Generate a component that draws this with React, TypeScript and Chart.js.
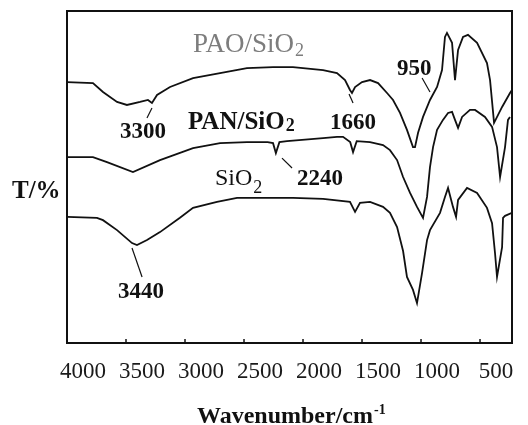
import React, { useEffect, useRef } from 'react';
import { Chart, registerables } from 'chart.js';
Chart.register(...registerables);

// Wavenumber (cm-1) and transmittance (arbitrary, %)
const paoWn = [4000,3780,3695,3576,3492,3381,3314,3280,3237,3127,2932,2703,2475,2254,2085,1830,1712,1644,1602,1585,1559,1500,1432,1364,1288,1237,1178,1119,1068,1051,1025,983,924,864,822,797,780,737,712,686,644,602,525,441,415,381,313,246,229];
const paoT = [78.6,78.3,75.6,72.6,71.7,72.6,73.2,72.3,74.7,77.1,79.8,81.3,82.8,83.1,83.1,82.2,81.3,79.2,76.2,75.3,77.1,78.6,79.2,78.3,75.3,73.2,69.3,64.2,59.0,59.0,63.3,68.1,73.2,77.1,82.2,92.2,93.4,90.4,79.2,88.3,92.2,92.8,90.4,84.3,79.2,66.3,71.1,75.3,76.2];

const panWn = [4000,3780,3661,3441,3212,2932,2703,2475,2300,2254,2230,2200,2136,1830,1712,1661,1600,1576,1545,1432,1322,1263,1203,1152,1093,1034,983,949,924,898,864,814,771,737,712,686,652,585,542,458,398,356,330,288,263,246];
const panT = [56.0,56.0,54.5,51.5,55.1,58.7,60.2,60.5,60.5,60.2,57.2,60.5,60.8,61.7,62.1,62.1,60.5,57.5,60.8,60.5,59.6,58.1,55.1,50.0,45.2,41.0,37.7,44.0,53.0,59.0,64.2,67.2,69.3,69.6,67.2,64.8,68.1,70.2,70.2,68.1,65.1,59.0,50.0,59.0,67.2,68.1];

const sioWn = [4000,3746,3695,3576,3449,3407,3322,3212,3043,2932,2729,2559,2085,1830,1602,1559,1517,1432,1322,1263,1203,1152,1119,1068,1034,991,949,924,839,797,771,729,703,686,610,525,441,398,373,356,313,305,288,229];
const sioT = [38.0,37.7,37.0,34.0,30.1,29.5,31.0,33.4,37.7,40.7,42.5,43.7,43.7,43.4,42.5,39.5,42.2,42.5,41.0,39.2,34.9,27.7,19.9,16.0,12.0,21.1,31.0,34.0,39.2,44.0,46.7,41.0,38.0,43.1,46.7,45.2,40.7,36.1,27.1,19.9,28.9,37.7,38.3,39.2];

const xTicks = [4000, 3500, 3000, 2500, 2000, 1500, 1000, 500];
const xTitle = 'Wavenumber/cm';
const xTitleSup = '-1';
const yTitle = 'T/%';

// peak annotations: text, anchor (wavenumber, T), leader line ends
const peakNotes = [
  { text: '3300', wn: 3551, t: 61.7, a: [3280, 70.8], b: [3322, 67.8] },
  { text: '1660', wn: 1771, t: 64.5, a: [1610, 75.0], b: [1576, 72.3] },
  { text: '950', wn: 1203, t: 80.7, a: [991, 79.8], b: [924, 75.6] },
  { text: '2240', wn: 2051, t: 47.6, a: [2178, 55.7], b: [2093, 52.7] },
  { text: '3440', wn: 3568, t: 13.6, a: [3449, 28.6], b: [3364, 19.9] },
];
const seriesNotes = [
  { main: 'PAO/SiO', sub: '2', wn: 2932, t: 87.7, font: '27px "Liberation Serif"', subFont: '18px "Liberation Serif"', subDy: 4, color: '#7d7d7d' },
  { main: 'PAN/SiO', sub: '2', wn: 2975, t: 64.5, font: 'bold 25px "Liberation Serif"', subFont: 'bold 18px "Liberation Serif"', subDy: 2, color: '#111' },
  { main: 'SiO', sub: '2', wn: 2746, t: 47.6, font: '24px "Liberation Serif"', subFont: '18px "Liberation Serif"', subDy: 8, color: '#111' },
];

const overlay = {
  id: 'overlay',
  afterDatasetsDraw(chart: any) {
    const { ctx, chartArea, scales } = chart;
    const { left, right, top, bottom } = chartArea;
    const x = scales.x, y = scales.y;
    ctx.save();
    ctx.strokeStyle = '#111';
    ctx.lineWidth = 2;
    ctx.strokeRect(left, top, right - left, bottom - top);
    ctx.lineWidth = 1.5;
    xTicks.forEach((v) => {
      const px = x.getPixelForValue(v);
      ctx.beginPath();
      ctx.moveTo(px, bottom);
      ctx.lineTo(px, bottom - 4);
      ctx.stroke();
    });
    ctx.textBaseline = 'alphabetic';
    ctx.textAlign = 'left';
    seriesNotes.forEach((n) => {
      const px = x.getPixelForValue(n.wn);
      const py = y.getPixelForValue(n.t);
      ctx.fillStyle = n.color;
      ctx.font = n.font;
      ctx.fillText(n.main, px, py);
      const w = ctx.measureText(n.main).width;
      ctx.font = n.subFont;
      ctx.fillText(n.sub, px + w + 1, py + n.subDy);
    });
    ctx.fillStyle = '#111';
    ctx.font = 'bold 23px "Liberation Serif"';
    ctx.lineWidth = 1.2;
    peakNotes.forEach((n) => {
      ctx.fillText(n.text, x.getPixelForValue(n.wn), y.getPixelForValue(n.t));
      ctx.beginPath();
      ctx.moveTo(x.getPixelForValue(n.a[0]), y.getPixelForValue(n.a[1]));
      ctx.lineTo(x.getPixelForValue(n.b[0]), y.getPixelForValue(n.b[1]));
      ctx.stroke();
    });
    // y title
    ctx.font = 'bold 25px "Liberation Serif"';
    ctx.fillText(yTitle, 12, 198);
    // x title
    ctx.font = 'bold 24px "Liberation Serif"';
    ctx.fillText(xTitle, 197, 423);
    const tw = ctx.measureText(xTitle).width;
    ctx.font = 'bold 14px "Liberation Serif"';
    ctx.fillText(xTitleSup, 197 + tw + 1, 414);
    ctx.restore();
  },
};

export default function App() {
  const ref = useRef<HTMLCanvasElement>(null);
  useEffect(() => {
    if (!ref.current) return;
    const mk = (wn: number[], t: number[]) => wn.map((w, i) => ({ x: w, y: t[i] }));
    const ds = (label: string, wn: number[], t: number[]) => ({
      label,
      data: mk(wn, t),
      borderColor: '#111',
      borderWidth: 1.8,
      pointRadius: 0,
      tension: 0,
      fill: false,
    });
    const chart = new Chart(ref.current, {
      type: 'line',
      data: {
        datasets: [
          ds('PAO/SiO2', paoWn, paoT),
          ds('PAN/SiO2', panWn, panT),
          ds('SiO2', sioWn, sioT),
        ],
      },
      options: {
        animation: false,
        responsive: false,
        layout: { padding: { left: 67, right: 16, top: 11, bottom: 0 } },
        plugins: { legend: { display: false }, tooltip: { enabled: false } },
        scales: {
          x: {
            type: 'linear',
            reverse: true,
            min: 229,
            max: 4000,
            afterBuildTicks: (s: any) => { s.ticks = xTicks.map((v) => ({ value: v })); },
            afterFit: (s: any) => { s.height = 82; },
            grid: { display: false, drawTicks: false },
            border: { display: false },
            ticks: {
              autoSkip: false,
              maxRotation: 0,
              padding: 15,
              labelOffset: 16,
              color: '#1a1a1a',
              font: { family: '"Liberation Serif"', size: 23 },
              callback: (v: any) => String(v),
            },
          },
          y: { display: false, min: 0, max: 100 },
        },
      },
      plugins: [overlay],
    });
    return () => chart.destroy();
  }, []);
  return (
    <div style={{ position: 'absolute', left: 0, top: 0, width: 528, height: 425, background: '#fff' }}>
      <canvas ref={ref} width={528} height={425} style={{ display: 'block' }} />
    </div>
  );
}
